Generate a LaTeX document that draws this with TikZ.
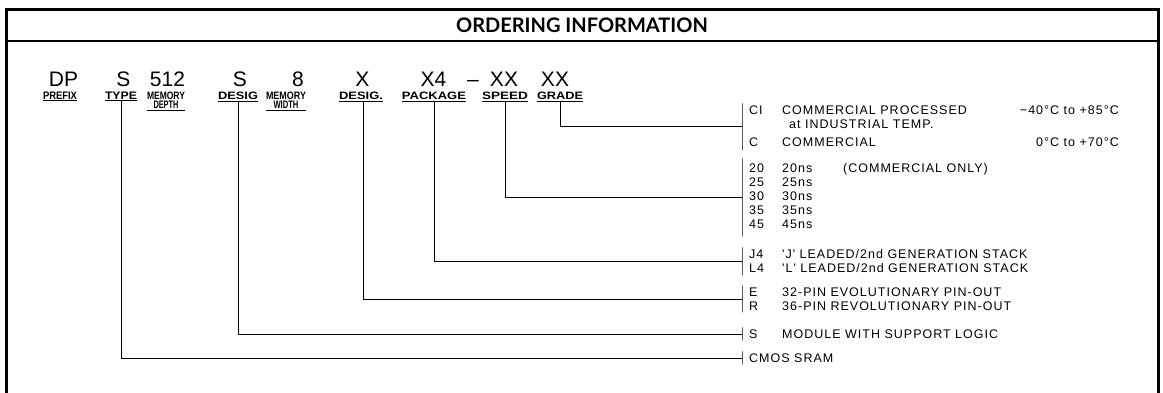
\documentclass[tikz,border=0pt]{standalone}
\usepackage{fontspec}
\usepackage{graphicx}
\setmainfont{Liberation Sans}
\newfontfamily\titlefont{Lato}
\newfontfamily\bodyfontfam[LetterSpace=8,Ligatures=TeXOff]{Liberation Sans}
\newfontfamily\codefontfam[Ligatures=TeXOff]{Liberation Sans}
\newcommand\bodyfont{\bodyfontfam\fontsize{12.5}{14}\selectfont}
\newcommand\codefont{\codefontfam\fontsize{21}{24}\selectfont}
\newcommand\labfont{\fontsize{8}{9.5}\selectfont\bfseries}
\newcommand\lbl[2]{\resizebox{#1}{7.5pt}{#2}}
\begin{document}
\begin{tikzpicture}[x=1pt,y=-1pt,
  frameline/.style={line width=3pt},
  conn/.style={line width=0.8pt},
  codetxt/.style={font=\codefont, inner sep=0pt, anchor=base},
  lab/.style={font=\labfont, inner xsep=0pt, inner ysep=1.5pt, anchor=north, align=center},
  bar/.style={draw, line width=0.8pt, inner sep=0pt, minimum width=0pt, anchor=north},
  txt/.style={font=\bodyfont, inner sep=0pt, anchor=base west},
  rtxt/.style={font=\bodyfont, inner sep=0pt, anchor=base east}]
\useasboundingbox (0,0) rectangle (1163,393);
% frame
\draw[frameline] (6,393) -- (6,10) -- (1158,10) -- (1158,393);
\draw[line width=2.5pt] (6,41) -- (1158,41);
\node[font=\titlefont\bfseries\fontsize{20}{22}\selectfont, inner sep=0pt] (title) at (582,25) {ORDERING INFORMATION};
% code letters
\node[codetxt] (cDP) at (63.5,87) {DP};
\node[codetxt] (cS1) at (123.5,87) {S};
\node[codetxt] (c512) at (167.5,87) {512};
\node[codetxt] (cS2) at (240,87) {S};
\node[codetxt] (c8) at (298,87) {8};
\node[codetxt] (cX) at (362.5,87) {X};
\node[codetxt] (cX4) at (433.5,87) {X4};
\node[codetxt] (cdash) at (473,87) {–};
\node[codetxt] (cXX1) at (504,87) {XX};
\node[codetxt] (cXX2) at (555,87) {XX};
% labels
\node[lab] (lPrefix) at (60,90) {\lbl{34pt}{PREFIX}};
\node[lab] (lType) at (121,90) {\lbl{32pt}{TYPE}};
\node[lab] (lMemD) at (166,90) {\lbl{38pt}{MEMORY}\\\lbl{25pt}{DEPTH}};
\node[lab] (lDesA) at (238,90) {\lbl{40pt}{DESIG}};
\node[lab] (lMemW) at (286,90) {\lbl{40pt}{MEMORY}\\\lbl{25pt}{WIDTH}};
\node[lab] (lDesB) at (361,90) {\lbl{44pt}{DESIG.}};
\node[lab] (lPack) at (434,90) {\lbl{64pt}{PACKAGE}};
\node[lab] (lSpeed) at (505,90) {\lbl{46pt}{SPEED}};
\node[lab] (lGrade) at (560,90) {\lbl{46pt}{GRADE}};
\foreach \n in {lPrefix,lType,lMemD,lDesA,lMemW,lDesB,lPack,lSpeed,lGrade}
  \draw[conn] (\n.south west) -- (\n.south east);
% bars
\node[bar, minimum height=47] (bGrade) at (742,103) {};
\node[bar, minimum height=78] (bSpeed) at (742,158) {};
\node[bar, minimum height=28] (bPack) at (742,247) {};
\node[bar, minimum height=27] (bDes) at (742,285) {};
\node[bar, minimum height=13] (bMod) at (742,327) {};
\node[bar, minimum height=13] (bCmos) at (742,351) {};
% connectors
\draw[conn] (lGrade.south) |- (bGrade.west);
\draw[conn] (lSpeed.south) |- (bSpeed.west);
\draw[conn] (lPack.south) |- (bPack.west);
\draw[conn] ([xshift=2pt]lDesB.south) |- (bDes.west);
\draw[conn] (lDesA.south) |- (bMod.west);
\draw[conn] (lType.south) |- (bCmos.west);
% texts
\node[txt] (tCI) at (749,114.5) {CI};
\node[txt] (tCId) at (782,114.5) {COMMERCIAL PROCESSED};
\node[rtxt] (tCIr) at (1119,114.5) {−40°C to +85°C};
\node[txt] (tCI2) at (789,128.5) {at INDUSTRIAL TEMP.};
\node[txt] (tC) at (749,146.5) {C};
\node[txt] (tCd) at (782,146.5) {COMMERCIAL};
\node[rtxt] (tCr) at (1119,146.5) {0°C to +70°C};
\node[txt] (s20) at (749,172.5) {20};
\node[txt] (s20d) at (782,172.5) {20ns};
\node[txt] (s20n) at (843,172.5) {(COMMERCIAL ONLY)};
\node[txt] (s25) at (749,186.5) {25};
\node[txt] (s25d) at (782,186.5) {25ns};
\node[txt] (s30) at (749,200.5) {30};
\node[txt] (s30d) at (782,200.5) {30ns};
\node[txt] (s35) at (749,214.5) {35};
\node[txt] (s35d) at (782,214.5) {35ns};
\node[txt] (s45) at (749,228.5) {45};
\node[txt] (s45d) at (782,228.5) {45ns};
\node[txt] (pJ4) at (749,258.5) {J4};
\node[txt] (pJ4d) at (782,258.5) {'J' LEADED/2nd GENERATION STACK};
\node[txt] (pL4) at (749,272.5) {L4};
\node[txt] (pL4d) at (782,272.5) {'L' LEADED/2nd GENERATION STACK};
\node[txt] (dE) at (749,296.5) {E};
\node[txt] (dEd) at (782,296.5) {32-PIN EVOLUTIONARY PIN-OUT};
\node[txt] (dR) at (749,310.5) {R};
\node[txt] (dRd) at (782,310.5) {36-PIN REVOLUTIONARY PIN-OUT};
\node[txt] (mS) at (749,338) {S};
\node[txt] (mSd) at (782,338) {MODULE WITH SUPPORT LOGIC};
\node[txt] (cm) at (749,362) {CMOS SRAM};
\end{tikzpicture}
\end{document}
